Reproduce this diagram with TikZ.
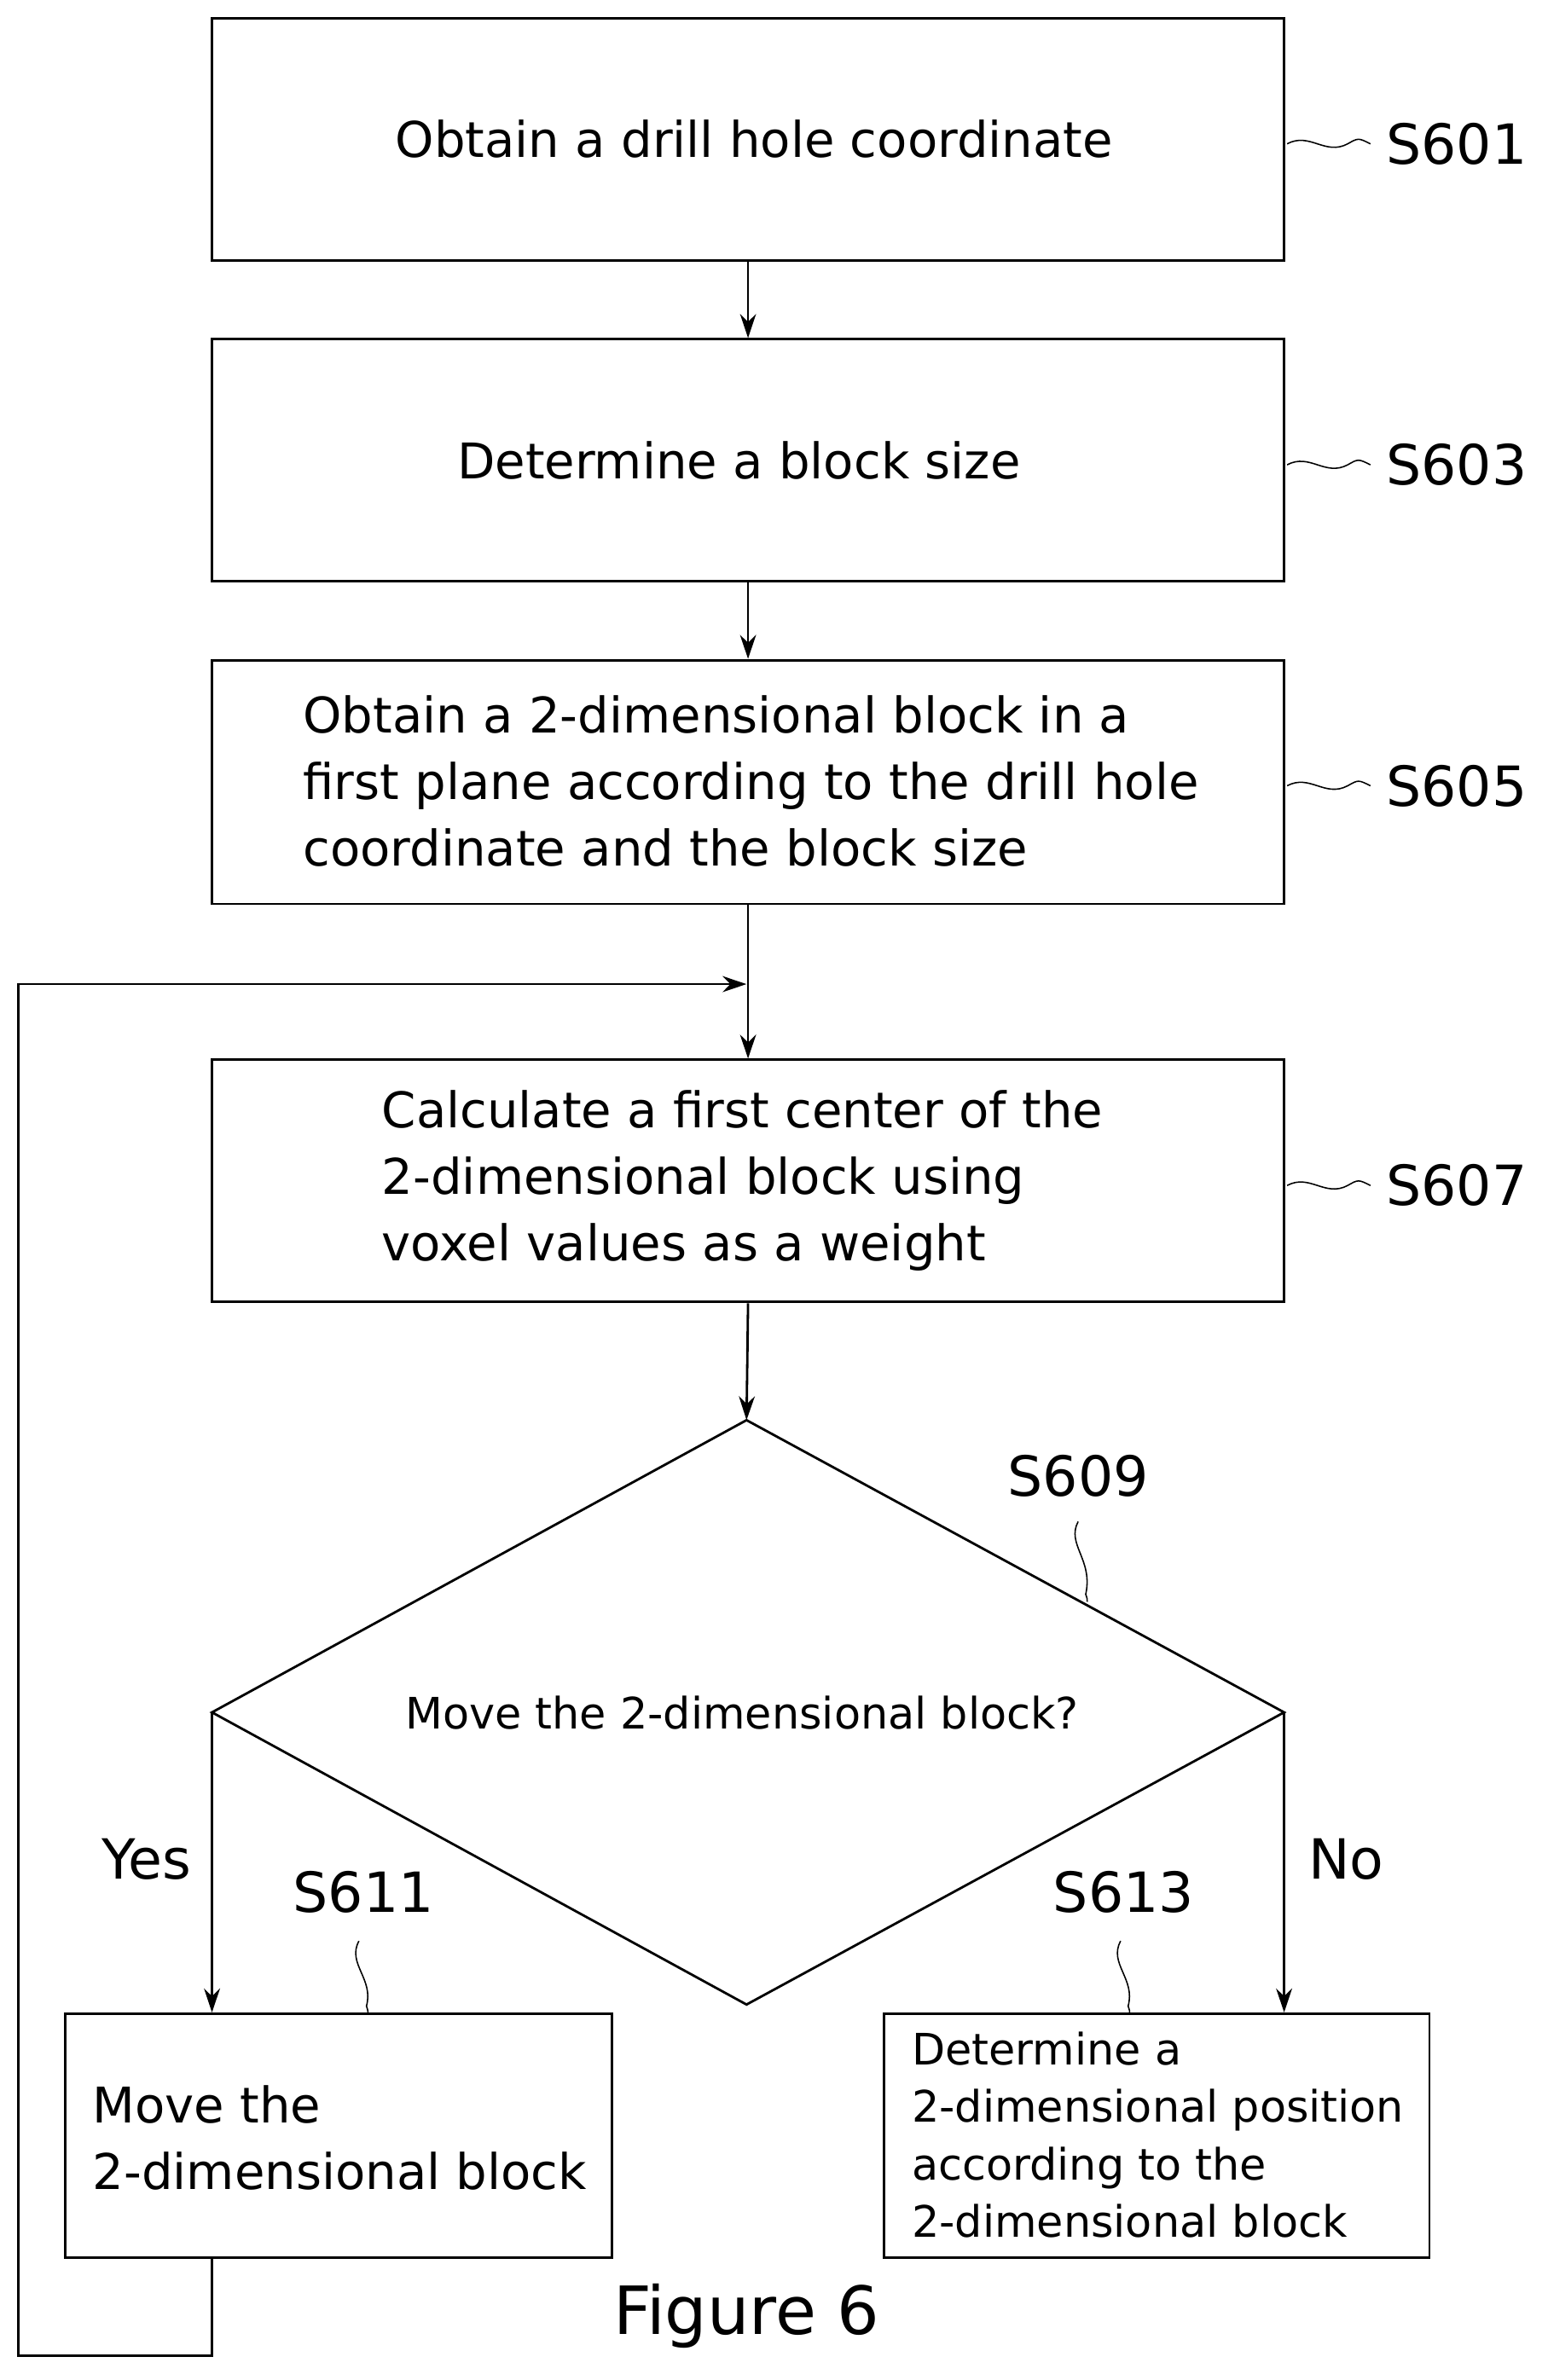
\documentclass[tikz,border=0pt]{standalone}
\usepackage{fontspec}
\setmainfont{DejaVu Sans}
\usetikzlibrary{arrows.meta}
\begin{document}
\begin{tikzpicture}[x=0.02cm,y=-0.02cm,
  box/.style={draw,line width=0.9pt},
  arr/.style={-{Stealth[length=9pt,width=6pt]},line width=0.9pt},
  txt/.style={font=\fontsize{18.5}{25}\selectfont},
  lbl/.style={font=\fontsize{20.8}{24}\selectfont},
  sq/.style={line width=0.5pt}]
\useasboundingbox (0,0) rectangle (1022,1572);
\node[box,minimum width=708*0.02cm,minimum height=160*0.02cm] (b1) at (494,92) {};
\node[txt] at (498,92) {Obtain a drill hole coordinate};
\node[box,minimum width=708*0.02cm,minimum height=160*0.02cm] (b2) at (494,304) {};
\node[txt] at (488,304) {Determine a block size};
\node[box,minimum width=708*0.02cm,minimum height=161*0.02cm] (b3) at (494,516.5) {};
\node[txt,align=left,anchor=west] at (194,516) {Obtain a 2-dimensional block in a\\first plane according to the drill hole\\coordinate and the block size};
\node[box,minimum width=708*0.02cm,minimum height=160*0.02cm] (b4) at (494,780) {};
\node[txt,align=left,anchor=west] at (246,780) {Calculate a first center of the\\2-dimensional block using\\voxel values as a weight};
\coordinate (dt) at (493,938); \coordinate (dl) at (140,1131);
\coordinate (dr) at (848,1131); \coordinate (db) at (493,1324);
\draw[line width=0.9pt] (dt)--(dr)--(db)--(dl)--cycle;
\node[font=\fontsize{16.3}{19}\selectfont] at (490,1131) {Move the 2-dimensional block?};
\node[box,minimum width=361*0.02cm,minimum height=161*0.02cm] (b5) at (223.5,1410.5) {};
\node[txt,align=left,anchor=west] at (55,1412) {Move the\\2-dimensional block};
\node[box,minimum width=360*0.02cm,minimum height=161*0.02cm] (b6) at (764,1410.5) {};
\node[font=\fontsize{16.3}{21.6}\selectfont,align=left,anchor=west] at (596,1410) {Determine a\\2-dimensional position\\according to the\\2-dimensional block};
\draw[arr] (b1.south)--(b2.north);
\draw[arr] (b2.south)--(b3.north);
\draw[arr] (b3.south)--(b4.north);
\draw[arr] (b4.south)--(dt);
\draw[arr] (dl)--(dl|-b5.north);
\draw[arr] (dr)--(dr|-b6.north);
\coordinate (c1) at (140,1556); \coordinate (c2) at (12,1556); \coordinate (c3) at (12,650);
\draw[arr] (b5.south-|c1)--(c1)--(c2)--(c3)--(493,650);
\node[lbl] at (97,1228) {Yes};
\node[lbl] at (889,1228) {No};
\node[lbl] at (962,95) {S601};
\node[lbl] at (962,307) {S603};
\node[lbl] at (962,519) {S605};
\node[lbl] at (962,783) {S607};
\node[lbl] at (712,975) {S609};
\node[lbl] at (240,1250) {S611};
\node[lbl] at (742,1250) {S613};
\node[font=\fontsize{25}{28}\selectfont] at (493,1530) {Figure 6};
\foreach \y in {95,307,519,783}{
  \draw[sq] (850,\y) .. controls (865,\y-8) and (875,\y+8) .. (890,\y) .. controls (897,\y-4) .. (905,\y);}
\foreach \x/\y/\e in {712/1005/1058,237/1282/1330,740/1282/1330}{
  \draw[sq] (\x,\y) .. controls (\x-8,\y+15) and (\x+10,\y+25) .. (\x+5,\e-5) .. controls (\x+6,\e-2) .. (\x+6,\e);}
\end{tikzpicture}
\end{document}
